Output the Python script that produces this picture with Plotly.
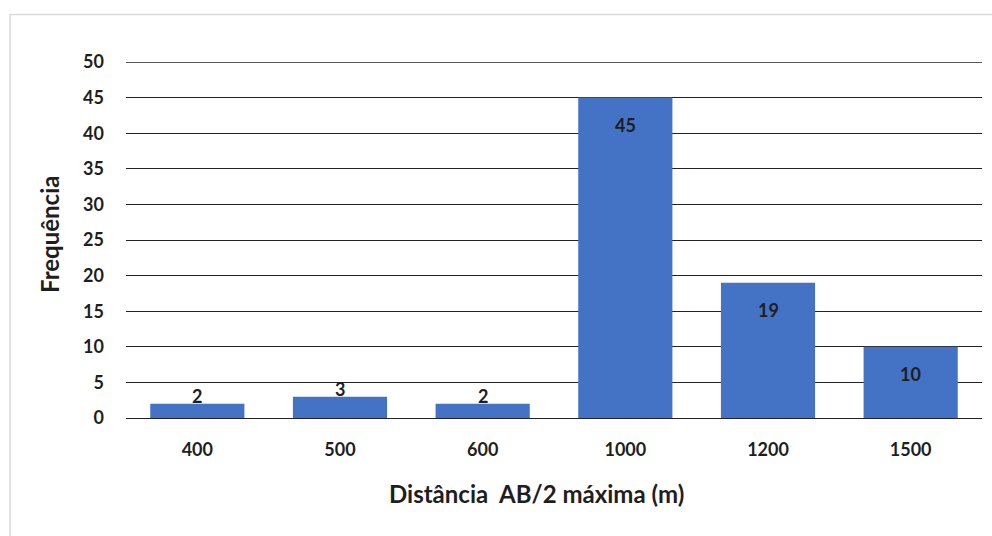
import plotly.graph_objects as go

categories = ["400", "500", "600", "1000", "1200", "1500"]
values = [2, 3, 2, 45, 19, 10]
y_ticks = [0, 5, 10, 15, 20, 25, 30, 35, 40, 45, 50]
x_title = "Distância  AB/2 máxima (m)"
y_title = "Frequência"

FONT = "Lato"
TXT = "#1e1e1e"
BAR = "#4472C4"
GRID = "#222222"

fig = go.Figure()
fig.add_trace(go.Bar(
    x=categories, y=values, marker=dict(color=BAR, line=dict(width=0)),
    width=0.66, hoverinfo="skip",
))

annotations = []
for i, v in enumerate(values):
    if v >= 10:
        annotations.append(dict(x=i, y=v, xref="x", yref="y", text=f"<b>{v}</b>",
                                showarrow=False, yanchor="middle", yshift=-27,
                                font=dict(family=FONT, size=18, color=TXT)))
    else:
        annotations.append(dict(x=i, y=v, xref="x", yref="y", text=f"<b>{v}</b>",
                                showarrow=False, yanchor="middle", yshift=8,
                                font=dict(family=FONT, size=18, color=TXT)))

annotations.append(dict(x=0.479, y=-0.2107, xref="paper", yref="paper",
                        text=f"<b>{x_title}</b>", showarrow=False,
                        xanchor="center", yanchor="middle",
                        font=dict(family=FONT, size=24, color=TXT)))
annotations.append(dict(x=-0.0888, y=0.5169, xref="paper", yref="paper",
                        text=f"<b>{y_title}</b>", showarrow=False, textangle=-90,
                        xanchor="center", yanchor="middle",
                        font=dict(family=FONT, size=24, color=TXT)))

fig.update_layout(
    width=992, height=536,
    margin=dict(l=126, r=10, t=62, b=118),
    paper_bgcolor="white", plot_bgcolor="white",
    showlegend=False,
    font=dict(family=FONT, color=TXT),
    annotations=annotations,
    xaxis=dict(
        type="category", range=[-0.5, len(categories) - 0.5],
        showgrid=False, zeroline=False, showline=False,
        tickfont=dict(family=FONT, size=18, color=TXT, weight="bold"),
        ticks="", ticklabelstandoff=19,
    ),
    yaxis=dict(
        range=[0, 50], tickvals=y_ticks, showgrid=True, gridcolor=GRID, gridwidth=1.4,
        zeroline=True, zerolinecolor=GRID, zerolinewidth=1.4, showline=False,
        tickfont=dict(family=FONT, size=18, color=TXT, weight="bold"),
        ticks="", ticklabelstandoff=21,
    ),
    shapes=[
        dict(type="rect", xref="paper", yref="paper",
             x0=-0.1355, x1=1.03, y0=-0.5, y1=1.1334,
             line=dict(color="#d9d9d9", width=1.5), fillcolor="rgba(0,0,0,0)", layer="below"),
        dict(type="line", xref="paper", yref="y", x0=0, x1=1, y0=y_ticks[-1], y1=y_ticks[-1],
             line=dict(color=GRID, width=1.4), layer="below"),
    ],
)

fig.write_html("out.html")
